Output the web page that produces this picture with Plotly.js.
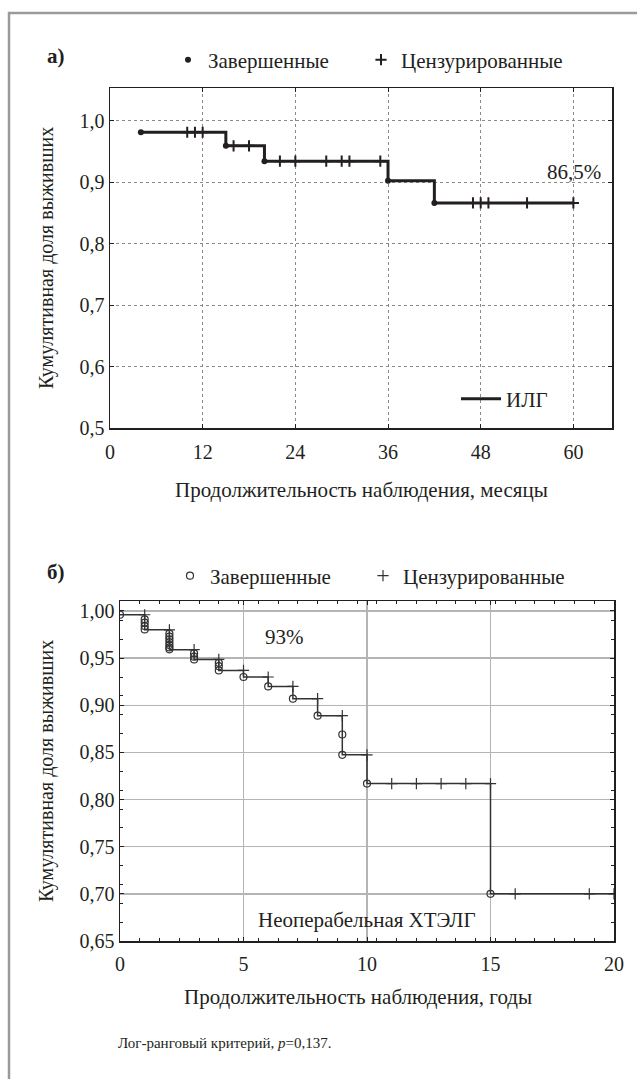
<!DOCTYPE html>
<html><head><meta charset="utf-8">
<script src="https://cdn.plot.ly/plotly-3.0.1.min.js"></script>
<style>html,body{margin:0;padding:0;background:#fff}#chart{width:637px;height:1079px}</style>
</head><body><div id="chart"></div>
<script>
// ---------- Panel а): ИЛГ, months ----------
const topEventT = [4, 15, 20, 36, 42];
const topEventS = [0.981, 0.959, 0.934, 0.902, 0.866];
const topCensT = [10, 11, 12, 16, 18, 22, 24, 28, 30, 31, 35, 47, 48, 49, 54, 60];
const topCensS = [0.981, 0.981, 0.981, 0.959, 0.959, 0.934, 0.934, 0.934, 0.934, 0.934, 0.934, 0.866, 0.866, 0.866, 0.866, 0.866];
const topEndT = 60;
const topXTicks = [0, 12, 24, 36, 48, 60];
const topYTicks = [0.5, 0.6, 0.7, 0.8, 0.9, 1.0];
const topYTickText = ['0,5', '0,6', '0,7', '0,8', '0,9', '1,0'];

// ---------- Panel б): неоперабельная ХТЭЛГ, years ----------
const botStepT = [0, 1, 2, 3, 4, 5, 6, 7, 8, 9, 10, 15];
const botStepS = [0.996, 0.980, 0.959, 0.9486, 0.937, 0.930, 0.920, 0.907, 0.889, 0.8475, 0.817, 0.700];
const botEndT = 20;
const botEventT = [0, 1, 1, 1, 1, 2, 2, 2, 2, 2, 2, 2, 3, 3, 3, 4, 4, 4, 5, 6, 7, 8, 9, 9, 10, 15];
const botEventS = [0.996, 0.9912, 0.9877, 0.984, 0.9805, 0.976, 0.9728, 0.970, 0.967, 0.964, 0.9614, 0.9593,
                   0.955, 0.9515, 0.9486, 0.945, 0.9415, 0.937, 0.930, 0.920, 0.907, 0.889, 0.869, 0.8475, 0.817, 0.700];
const botCensT = [1, 2, 3, 4, 5, 6, 7, 8, 9, 10, 11, 12, 13, 14, 15, 16, 19, 20];
const botCensS = [0.996, 0.980, 0.959, 0.9486, 0.937, 0.930, 0.920, 0.907, 0.889, 0.8475, 0.817, 0.817, 0.817, 0.817, 0.817, 0.700, 0.700, 0.700];
const botXTicks = [0, 5, 10, 15, 20];
const botYTicks = [0.65, 0.70, 0.75, 0.80, 0.85, 0.90, 0.95, 1.00];
const botYTickText = ['0,65', '0,70', '0,75', '0,80', '0,85', '0,90', '0,95', '1,00'];

// ---------- layout helpers ----------
const W = 637, H = 1079;
const px = v => v / W, py = v => 1 - v / H;
const FONT = 'Liberation Serif, Times New Roman, Times, serif';
const INK = '#231f20';

const traces = [
  { x: topEventT.concat([topEndT]), y: topEventS.concat([topEventS[topEventS.length - 1]]),
    xaxis: 'x', yaxis: 'y', mode: 'lines', line: { shape: 'hv', color: INK, width: 3 },
    name: 'ИЛГ', legend: 'legend2', showlegend: true, hoverinfo: 'skip' },
  { x: topEventT, y: topEventS, xaxis: 'x', yaxis: 'y', mode: 'markers',
    marker: { symbol: 'circle', size: 6, color: INK },
    name: 'Завершенные', legend: 'legend', showlegend: true },
  { x: topCensT, y: topCensS, xaxis: 'x', yaxis: 'y', mode: 'markers',
    marker: { symbol: 'cross-thin-open', size: 8, color: INK, line: { color: INK, width: 2 } },
    name: 'Цензурированные', legend: 'legend4', showlegend: true },

  { x: botStepT.concat([botEndT]), y: botStepS.concat([botStepS[botStepS.length - 1]]),
    xaxis: 'x2', yaxis: 'y2', mode: 'lines', line: { shape: 'hv', color: '#333', width: 1.5 },
    showlegend: false, hoverinfo: 'skip' },
  { x: botEventT, y: botEventS, xaxis: 'x2', yaxis: 'y2', mode: 'markers',
    marker: { symbol: 'circle-open', size: 7, color: '#333', line: { color: '#333', width: 1.2 } },
    name: 'Завершенные', legend: 'legend3', showlegend: true },
  { x: botCensT, y: botCensS, xaxis: 'x2', yaxis: 'y2', mode: 'markers',
    marker: { symbol: 'cross-thin-open', size: 8, color: '#333', line: { color: '#333', width: 1.2 } },
    name: 'Цензурированные', legend: 'legend5', showlegend: true }
];

const axBase = {
  showline: true, linecolor: INK, linewidth: 1.5, mirror: 'allticks',
  ticks: 'inside', ticklen: 4, tickcolor: INK, tickwidth: 1,
  zeroline: false, fixedrange: true, tickfont: { family: FONT, size: 20, color: INK }
};

const legBase = (x, y) => ({
  x: px(x), xanchor: 'left', y: py(y), yanchor: 'middle', orientation: 'h',
  bgcolor: 'rgba(0,0,0,0)', font: { family: FONT, size: 21, color: INK },
  itemclick: false, itemdoubleclick: false
});

const layout = {
  width: W, height: H, margin: { l: 0, r: 0, t: 0, b: 0 },
  paper_bgcolor: '#fff', plot_bgcolor: '#fff',
  font: { family: FONT, size: 20, color: INK },
  showlegend: true,
  xaxis: Object.assign({}, axBase, {
    domain: [px(110), px(612)], range: [0, 65], anchor: 'y', ticklabelstandoff: 5,
    tickvals: topXTicks, showgrid: true, gridcolor: '#8a8a8a', griddash: 'dot', gridwidth: 1
  }),
  yaxis: Object.assign({}, axBase, {
    domain: [py(428), py(88)], range: [0.5, 1.053], anchor: 'x',
    tickvals: topYTicks, ticktext: topYTickText, showgrid: true, gridcolor: '#8a8a8a', griddash: 'dot', gridwidth: 1
  }),
  xaxis2: Object.assign({}, axBase, {
    domain: [px(120), px(614)], range: [0, 20], anchor: 'y2', ticklabelstandoff: 4,
    tickvals: botXTicks, showgrid: true, gridcolor: '#b4b4b4', gridwidth: 1.5,
    minor: { ticks: 'inside', dtick: 0.8, tick0: 0, ticklen: 3, tickcolor: INK, showgrid: false }
  }),
  yaxis2: Object.assign({}, axBase, {
    domain: [py(941), py(601)], range: [0.65, 1.0106], anchor: 'x2',
    tickvals: botYTicks, ticktext: botYTickText, showgrid: true, gridcolor: '#b4b4b4', gridwidth: 1.5,
    minor: { ticks: 'inside', tickvals: [0.67,0.69,0.71,0.73,0.77,0.79,0.81,0.83,0.87,0.89,0.91,0.93,0.97,0.99], ticklen: 3, tickcolor: INK, showgrid: false }
  }),
  legend: legBase(168, 60),
  legend4: legBase(361, 60),
  legend2: Object.assign(legBase(456, 399), { orientation: 'v', itemwidth: 40 }),
  legend3: legBase(170, 576),
  legend5: legBase(363, 576),
  shapes: [
    { type: 'rect', xref: 'paper', yref: 'paper', x0: px(9), x1: 1.05, y0: py(13), y1: -0.05,
      line: { color: '#9a9a9a', width: 2.5 }, fillcolor: 'rgba(0,0,0,0)', layer: 'below' }
  ],
  annotations: [
    { text: '<b>а)</b>', xref: 'paper', yref: 'paper', x: px(45), y: py(56), xanchor: 'left', yanchor: 'middle',
      showarrow: false, font: { family: FONT, size: 21, color: INK } },
    { text: '<b>б)</b>', xref: 'paper', yref: 'paper', x: px(45), y: py(572), xanchor: 'left', yanchor: 'middle',
      showarrow: false, font: { family: FONT, size: 21, color: INK } },
    { text: 'Кумулятивная доля выживших', xref: 'paper', yref: 'paper', x: px(46), y: py(258), textangle: -90,
      xanchor: 'center', yanchor: 'middle', showarrow: false, font: { family: FONT, size: 20, color: INK } },
    { text: 'Продолжительность наблюдения, месяцы', xref: 'paper', yref: 'paper', x: px(361), y: py(490),
      xanchor: 'center', yanchor: 'middle', showarrow: false, font: { family: FONT, size: 21, color: INK } },
    { text: '86,5%', xref: 'x', yref: 'y', x: 60.1, y: 0.9166, xanchor: 'center', yanchor: 'middle',
      showarrow: false, font: { family: FONT, size: 21, color: INK } },
    { text: 'Кумулятивная доля выживших', xref: 'paper', yref: 'paper', x: px(46), y: py(771), textangle: -90,
      xanchor: 'center', yanchor: 'middle', showarrow: false, font: { family: FONT, size: 20, color: INK } },
    { text: 'Продолжительность наблюдения, годы', xref: 'paper', yref: 'paper', x: px(358), y: py(997),
      xanchor: 'center', yanchor: 'middle', showarrow: false, font: { family: FONT, size: 21, color: INK } },
    { text: '93%', xref: 'x2', yref: 'y2', x: 6.65, y: 0.972, xanchor: 'center', yanchor: 'middle',
      showarrow: false, font: { family: FONT, size: 21, color: INK } },
    { text: 'Неоперабельная ХТЭЛГ', xref: 'x2', yref: 'y2', x: 10, y: 0.6724, xanchor: 'center', yanchor: 'middle',
      showarrow: false, font: { family: FONT, size: 21, color: INK } },
    { text: 'Лог-ранговый критерий, <i>p</i>=0,137.', xref: 'paper', yref: 'paper', x: px(116), y: py(1043),
      xanchor: 'left', yanchor: 'middle', showarrow: false, font: { family: FONT, size: 15, color: INK } }
  ]
};

Plotly.newPlot('chart', traces, layout, { staticPlot: true, displayModeBar: false });
</script>
</body></html>
